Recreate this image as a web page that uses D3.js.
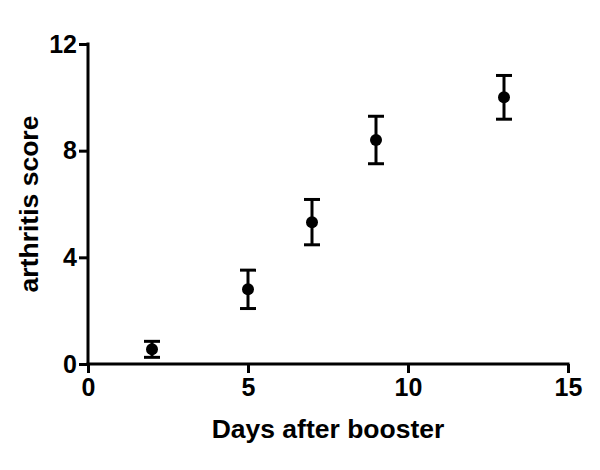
<!DOCTYPE html>
<html><head><meta charset="utf-8">
<script src="https://cdn.jsdelivr.net/npm/d3@7"></script>
<style>body{margin:0;background:#fff;} text{font-family:"Liberation Sans",Arial,sans-serif;font-weight:bold;}</style>
</head><body>
<svg id="c" width="600" height="470"></svg>
<script>
const days = [2, 5, 7, 9, 13];
const means = [0.55, 2.8, 5.32, 8.4, 10.0];
const errors = [0.3, 0.72, 0.85, 0.89, 0.82];
const xTicks = [0, 5, 10, 15];
const yTicks = [0, 4, 8, 12];

const svg = d3.select("#c");
const x = d3.scaleLinear().domain([0, 15]).range([88, 568]);
const y = d3.scaleLinear().domain([0, 12]).range([364, 44]);

const xAxis = svg.append("g").attr("transform", "translate(0,364)")
  .call(d3.axisBottom(x).tickValues(xTicks).tickSize(9).tickPadding(5).tickFormat(d3.format("d")));
const yAxis = svg.append("g").attr("transform", "translate(88,0)")
  .call(d3.axisLeft(y).tickValues(yTicks).tickSize(9).tickPadding(2).tickFormat(d3.format("d")));
[xAxis, yAxis].forEach(a => {
  a.attr("font-size", 25).attr("font-family", "Liberation Sans, Arial, sans-serif").attr("font-weight", "bold");
  a.selectAll("path").attr("stroke", "#000").attr("stroke-width", 3).attr("stroke-linecap", "square");
  a.selectAll("line").attr("stroke", "#000").attr("stroke-width", 3);
  a.selectAll("text").attr("fill", "#000").attr("font-size", 25).style("font-size", "25px");
});
xAxis.select(".domain").attr("d", "M88,0H568");
yAxis.select(".domain").attr("d", "M0,44V364");

const g = svg.append("g");
const data = days.map((d, i) => ({d, m: means[i], e: errors[i]}));
g.selectAll(".eb").data(data).enter().append("line")
  .attr("x1", d => x(d.d)).attr("x2", d => x(d.d))
  .attr("y1", d => y(d.m - d.e)).attr("y2", d => y(d.m + d.e))
  .attr("stroke", "#000").attr("stroke-width", 3);
["top", "bot"].forEach(k => {
  g.selectAll(".cap" + k).data(data).enter().append("line")
    .attr("x1", d => x(d.d) - 8).attr("x2", d => x(d.d) + 8)
    .attr("y1", d => y(k === "top" ? d.m + d.e : d.m - d.e))
    .attr("y2", d => y(k === "top" ? d.m + d.e : d.m - d.e))
    .attr("stroke", "#000").attr("stroke-width", 3);
});
g.selectAll("circle").data(data).enter().append("circle")
  .attr("cx", d => x(d.d)).attr("cy", d => y(d.m)).attr("r", 6).attr("fill", "#000");

svg.append("text").attr("x", 328).attr("y", 438).attr("text-anchor", "middle")
  .style("font-size", "26.5px").text("Days after booster");
svg.append("text").attr("transform", "translate(38,204) rotate(-90)").attr("text-anchor", "middle")
  .style("font-size", "26.5px").text("arthritis score");
</script>
</body></html>
